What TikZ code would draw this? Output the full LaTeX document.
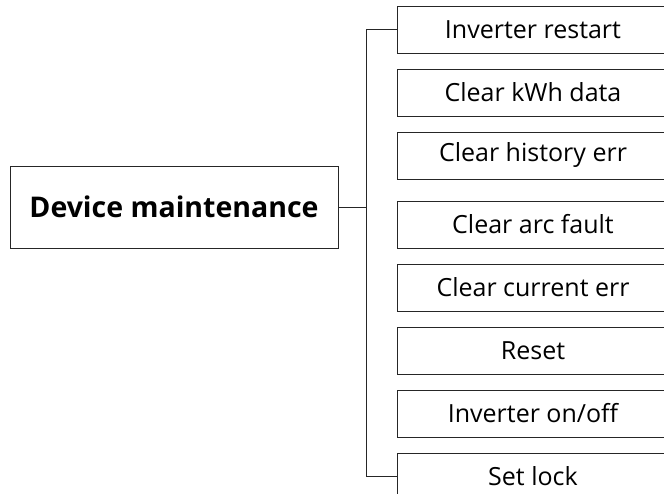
\documentclass[tikz,border=0pt]{standalone}
\usepackage{fontspec}
\setmainfont{Open Sans}
\usetikzlibrary{positioning}

\begin{document}
\begin{tikzpicture}[
  x=1pt, y=-1pt, node distance=15pt,
  box/.style={rectangle,draw=black!85,line width=1pt,fill=white,align=center,inner sep=0pt},
  main/.style={box,minimum width=328pt,minimum height=82pt,font=\fontsize{28.5}{32}\selectfont\bfseries},
  sub/.style={box,minimum width=272pt,minimum height=47pt,font=\fontsize{25}{28}\selectfont},
  link/.style={draw=black!85,line width=1pt}]
\useasboundingbox (0,0) rectangle (664,493);
\clip (0,0) rectangle (664,493);
\node[main] (dev) at (174,207) {Device maintenance};
\node[sub] (s1) at (533,29.5) {Inverter restart};
\node[sub, below=of s1] (s2) {Clear kWh data};
\node[sub, below=of s2] (s3) {Clear history err};
\node[sub, below=21pt of s3] (s4) {Clear arc fault};
\node[sub, below=of s4] (s5) {Clear current err};
\node[sub, below=of s5] (s6) {Reset};
\node[sub, below=of s6] (s7) {Inverter on/off};
\node[sub, below=of s7] (s8) {Set lock};
\coordinate (spine) at (366,0);
\draw[link] (s1.west) -- (s1.west -| spine) -- (s8.west -| spine) -- (s8.west);
\draw[link] (dev.east) -- (dev.east -| spine);
\end{tikzpicture}
\end{document}
